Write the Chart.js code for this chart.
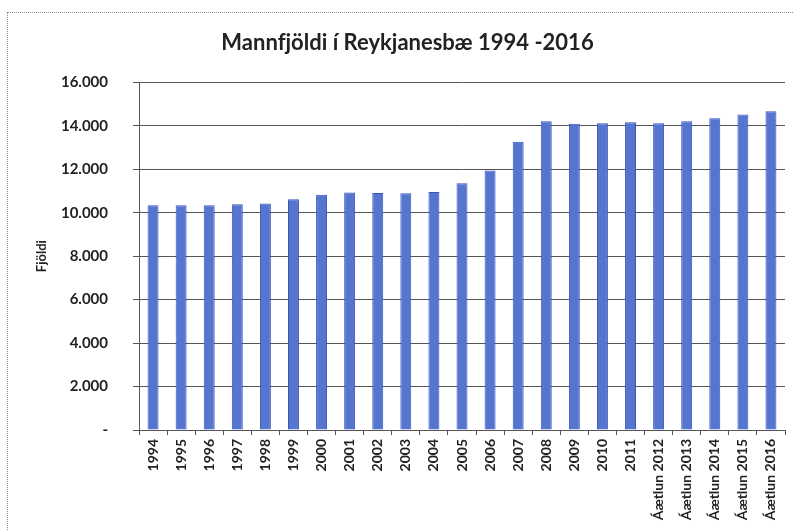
<!DOCTYPE html>
<html>
<head>
<meta charset="utf-8">
<script src="https://cdn.jsdelivr.net/npm/chart.js@4"></script>
<style>
  html, body { margin: 0; padding: 0; background: #fff; }
  #wrap { position: relative; width: 794px; height: 531px; }
  #frame { position: absolute; left: 7px; top: 12px; width: 800px; height: 540px;
           border-left: 1px dotted #8a8a8a; border-top: 1px dotted #8a8a8a; box-sizing: border-box; pointer-events: none; }
  canvas { position: absolute; left: 0; top: 0; }
</style>
</head>
<body>
<div id="wrap">
  <canvas id="c" width="794" height="531"></canvas>
  <div id="frame"></div>
</div>
<script>
const categories = ["1994","1995","1996","1997","1998","1999","2000","2001","2002","2003","2004","2005","2006","2007","2008","2009","2010","2011","Áætlun 2012","Áætlun 2013","Áætlun 2014","Áætlun 2015","Áætlun 2016"];
const population = [10340,10340,10340,10390,10430,10620,10830,10930,10910,10900,10960,11360,11940,13270,14210,14100,14120,14160,14120,14210,14350,14520,14670];
const chartTitle = "Mannf\u200Cjöldi í Reykjanesbæ 1994 -2016";
const yAxisTitle = "Fjöldi";
const yMin = 0, yMax = 16000, yStep = 2000;

const fontFamily = "Lato, 'Open Sans', sans-serif";

new Chart(document.getElementById('c'), {
  type: 'bar',
  data: {
    labels: categories,
    datasets: [{
      data: population,
      backgroundColor: '#5675cf',
      borderColor: '#3654bb',
      borderWidth: 1,
      categoryPercentage: 1.0,
      barPercentage: 0.39
    }]
  },
  options: {
    responsive: false,
    animation: false,
    layout: { padding: { left: 30, right: 9, top: 0, bottom: 0 } },
    plugins: {
      legend: { display: false },
      tooltip: { enabled: false },
      title: {
        display: true,
        text: chartTitle,
        color: '#222',
        font: { family: fontFamily, size: 22, weight: 'bold' },
        padding: { top: 30, bottom: 26 }
      }
    },
    scales: {
      x: {
        grid: { display: true, offset: true, drawOnChartArea: false, drawTicks: true, tickLength: 5, color: '#555' },
        border: { display: true, color: '#555', width: 1 },
        ticks: {
          autoSkip: false, minRotation: 90, maxRotation: 90, padding: 4,
          color: '#222', font: { family: fontFamily, size: 14, weight: 'bold' }
        },
        afterFit: (s) => { s.height = 101; }
      },
      y: {
        min: yMin, max: yMax,
        grid: { color: '#555', lineWidth: 1, drawTicks: true, tickLength: 6 },
        border: { display: true, color: '#555', width: 1 },
        ticks: {
          stepSize: yStep, padding: 25, color: '#222',
          font: { family: fontFamily, size: 15, weight: 'bold' },
          callback: (v) => v === 0 ? '-' : v.toLocaleString('de-DE')
        },
        title: {
          display: true, text: yAxisTitle, color: '#222',
          font: { family: fontFamily, size: 13, weight: 'bold' },
          padding: { top: 4, bottom: 4 }
        },
        afterFit: (s) => { s.width = 109; }
      }
    }
  }
});
</script>
</body>
</html>
